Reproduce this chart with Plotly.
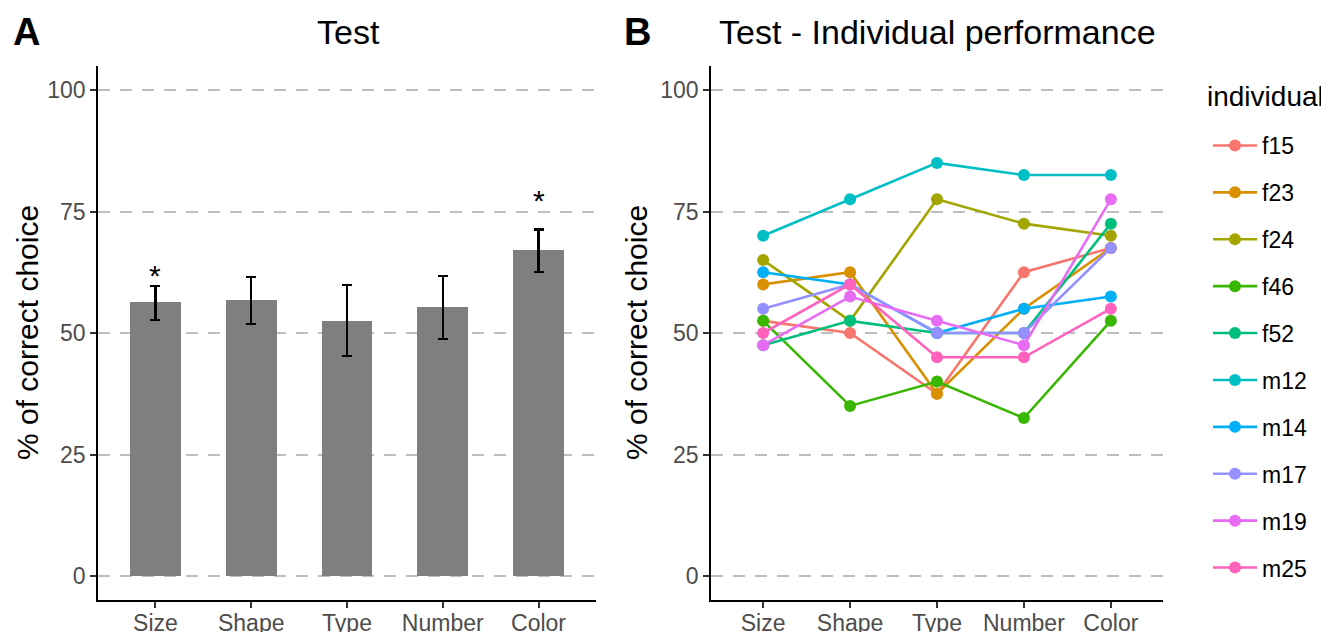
import plotly.graph_objects as go

# ---------------- data ----------------
conditions = ["Size", "Shape", "Type", "Number", "Color"]

# Panel A: group mean and error-bar limits (% correct)
mean_pct = [56.4, 56.9, 52.6, 55.4, 67.2]
err_low = [52.7, 51.9, 45.2, 48.8, 62.6]
err_high = [59.7, 61.5, 59.8, 61.7, 71.3]
star_level = [62.4, None, None, None, 77.9]

# Panel B: individual performance (% correct)
individuals = ["f15", "f23", "f24", "f46", "f52", "m12", "m14", "m17", "m19", "m25"]
f15 = [52.5, 50.0, 37.5, 62.5, 67.5]
f23 = [60.0, 62.5, 37.5, 55.0, 67.5]
f24 = [65.0, 52.5, 77.5, 72.5, 70.0]
f46 = [52.5, 35.0, 40.0, 32.5, 52.5]
f52 = [47.5, 52.5, 50.0, 50.0, 72.5]
m12 = [70.0, 77.5, 85.0, 82.5, 82.5]
m14 = [62.5, 60.0, 50.0, 55.0, 57.5]
m17 = [55.0, 60.0, 50.0, 50.0, 67.5]
m19 = [47.5, 57.5, 52.5, 47.5, 77.5]
m25 = [50.0, 60.0, 45.0, 45.0, 55.0]
individual_values = [f15, f23, f24, f46, f52, m12, m14, m17, m19, m25]
individual_colors = ["#F8766D", "#D89000", "#A3A500", "#39B600", "#00BF7D",
                     "#00BFC4", "#00B0F6", "#9590FF", "#E76BF3", "#FF62BC"]

y_ticks = [0, 25, 50, 75, 100]

# ---------------- figure ----------------
OFF = 8                      # page body margin
W, H = 1329 - OFF, 632 - OFF
FONT = "Liberation Sans, Arial, sans-serif"

fig = go.Figure()

plus = [h - m for h, m in zip(err_high, mean_pct)]
minus = [m - l for m, l in zip(mean_pct, err_low)]
fig.add_trace(go.Bar(
    x=conditions, y=mean_pct, width=0.53,
    marker=dict(color="#7F7F7F", line=dict(width=0)),
    error_y=dict(type="data", array=plus, arrayminus=minus, symmetric=False,
                 color="black", thickness=2.2, width=5),
    showlegend=False, xaxis="x", yaxis="y",
))

for name, vals, col in zip(individuals, individual_values, individual_colors):
    fig.add_trace(go.Scatter(
        x=conditions, y=vals, mode="lines+markers", name=name,
        legendgroup=name,
        line=dict(color=col, width=2.6),
        marker=dict(color=col, size=12),
        xaxis="x2", yaxis="y2",
    ))

# significance stars
for cond, lvl in zip(conditions, star_level):
    if lvl is not None:
        fig.add_annotation(x=cond, y=lvl, xref="x", yref="y", text="*",
                           showarrow=False, yanchor="middle", yshift=-3,
                           font=dict(family=FONT, size=30, color="black"))

def px_x(p):
    return (p - OFF) / W

def px_y(p):
    return 1 - (p - OFF) / H

ydom = [px_y(600.3), px_y(65.7)]
axis_common = dict(showline=True, linecolor="black", linewidth=1.8,
                   ticks="outside", ticklen=6, tickwidth=1.6, tickcolor="#333333",
                   tickfont=dict(family=FONT, size=23, color="#4D4D4D"),
                   zeroline=False)

xcommon = dict(type="category", categoryorder="array", categoryarray=conditions,
               range=[-0.6, 4.6], showgrid=False, automargin=False,
               ticklabelstandoff=-5, **axis_common)
ycommon = dict(domain=ydom, range=[-5, 105], tickvals=y_ticks,
               showgrid=True, gridcolor="#BEBEBE", gridwidth=1.8,
               griddash="12px,10px", automargin=False, **axis_common)

fig.update_layout(
    width=W, height=H,
    margin=dict(l=0, r=0, t=0, b=0),
    paper_bgcolor="white", plot_bgcolor="white",
    font=dict(family=FONT),
    bargap=0,
    xaxis=dict(domain=[px_x(98), px_x(596)], anchor="y", **xcommon),
    yaxis=dict(anchor="x", **ycommon),
    xaxis2=dict(domain=[px_x(711), px_x(1163)], anchor="y2", **xcommon),
    yaxis2=dict(anchor="x2", **ycommon),
    legend=dict(
        x=px_x(1208), y=px_y(124), xanchor="left", yanchor="top",
        font=dict(family=FONT, size=23, color="black"),
        tracegroupgap=14, itemwidth=44, bgcolor="rgba(0,0,0,0)",
    ),
    showlegend=True,
)

# legend title
fig.add_annotation(x=px_x(1205), y=px_y(97), xref="paper", yref="paper",
                   text="individual", showarrow=False, xanchor="left", yanchor="middle",
                   font=dict(family=FONT, size=28, color="black"))

# titles, panel letters and y-axis titles
fig.add_annotation(x=px_x(348), y=px_y(32), xref="paper", yref="paper", text="Test",
                   showarrow=False, xanchor="center", yanchor="middle",
                   font=dict(family=FONT, size=34, color="black"))
fig.add_annotation(x=px_x(937), y=px_y(32), xref="paper", yref="paper",
                   text="Test - Individual performance",
                   showarrow=False, xanchor="center", yanchor="middle",
                   font=dict(family=FONT, size=34, color="black"))
fig.add_annotation(x=px_x(26), y=px_y(32), xref="paper", yref="paper", text="<b>A</b>",
                   showarrow=False, xanchor="center", yanchor="middle",
                   font=dict(family=FONT, size=38, color="black"))
fig.add_annotation(x=px_x(637), y=px_y(32), xref="paper", yref="paper", text="<b>B</b>",
                   showarrow=False, xanchor="center", yanchor="middle",
                   font=dict(family=FONT, size=38, color="black"))
for xc in (27, 636):
    fig.add_annotation(x=px_x(xc), y=px_y(333), xref="paper", yref="paper",
                       text="% of correct choice", textangle=-90,
                       showarrow=False, xanchor="center", yanchor="middle",
                       font=dict(family=FONT, size=30, color="black"))

fig.write_html("out.html")
